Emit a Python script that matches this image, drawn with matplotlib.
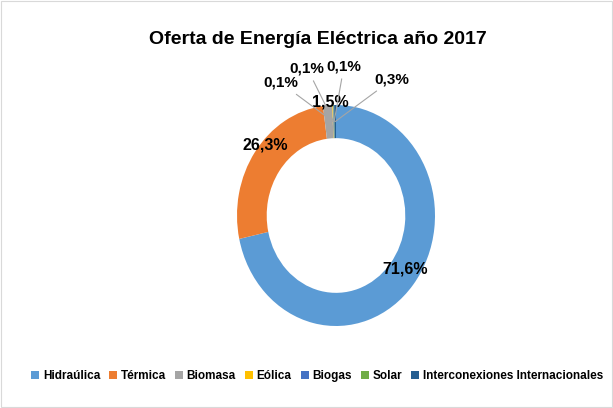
import numpy as np
import matplotlib.pyplot as plt

# energy supply shares 2017 (%)
fuentes = ["Hidraúlica", "Térmica", "Biomasa", "Eólica", "Biogas", "Solar",
           "Interconexiones Internacionales"]
valores = [71.6, 26.3, 1.5, 0.1, 0.1, 0.1, 0.3]
colores = ["#5B9BD5", "#ED7D31", "#A5A5A5", "#FFC000", "#4472C4", "#70AD47", "#255E91"]

plt.rcParams['font.family'] = ['Liberation Sans', 'DejaVu Sans']

fig = plt.figure(figsize=(6.13, 4.08), dpi=100)
W, H = 613, 408

# ring is drawn slightly taller than wide, like the source
ax = fig.add_axes([237 / W, 1 - 326 / H, 198 / W, 221 / H])
wedges, _ = ax.pie(valores, colors=colores, startangle=90, counterclock=False,
                   radius=1, wedgeprops=dict(width=0.30, edgecolor='none'))
ax.set_aspect('auto')
ax.set_xlim(-1, 1)
ax.set_ylim(-1, 1)
ax.axis('off')


def etiqueta(v):
    return f"{v:.1f}%".replace('.', ',')


# big labels sit on the ring
grandes = {0: (0.70, -0.48), 1: (-0.71, 0.64), 2: (-0.06, 1.03)}
for i, (x, y) in grandes.items():
    ax.text(x, y, etiqueta(valores[i]), ha='center', va='center',
            fontsize=11.5, fontweight='bold', color='black')

# small slices get leader lines, in the order they sit on the ring
pequenos = {3: (-0.38, 1.20, 'right'), 4: (-0.29, 1.33, 'center'),
            5: (0.08, 1.35, 'center'), 6: (0.39, 1.23, 'left')}
acum = np.cumsum([0] + valores)
for i, (x, y, ha) in pequenos.items():
    mid = 90 - 3.6 * (acum[i] + valores[i] / 2)
    px, py = np.cos(np.radians(mid)) * 0.85, np.sin(np.radians(mid)) * 0.85
    ax.annotate(etiqueta(valores[i]), xy=(px, py), xytext=(x, y),
                ha=ha, va='center', fontsize=11, fontweight='bold',
                arrowprops=dict(arrowstyle='-', color='#A5A5A5', lw=0.8,
                                shrinkA=2, shrinkB=0),
                annotation_clip=False)

fig.text(318 / W, 1 - 40 / H, "Oferta de Energía Eléctrica año 2017",
         ha='center', va='center', fontsize=14, fontweight='bold')

leg = fig.legend(wedges, fuentes, loc='center', bbox_to_anchor=(317 / W, 1 - 376 / H),
                 ncol=7, frameon=False, handlelength=0.7,
                 handleheight=0.7, handletextpad=0.3, columnspacing=0.75,
                 prop=dict(weight='bold', size=8.5))

fig.patches.append(plt.Rectangle((0.002, 0.002), 0.996, 0.996, transform=fig.transFigure,
                                 fill=False, edgecolor='#D9D9D9', lw=0.8))

fig.savefig("out.png", dpi=100, facecolor='white')
